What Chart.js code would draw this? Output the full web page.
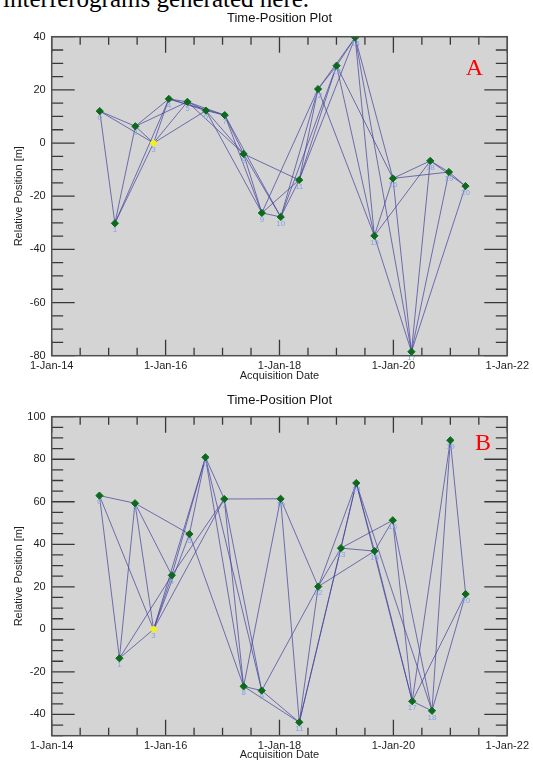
<!DOCTYPE html>
<html>
<head>
<meta charset="utf-8">
<title>Time-Position Plot</title>
<script src="https://cdn.jsdelivr.net/npm/chart.js@4.4.1/dist/chart.umd.min.js"></script>
<style>
  html, body { margin: 0; padding: 0; background: #fff; }
  body { width: 533px; height: 762px; position: relative; overflow: hidden; }
  .caption {
    position: absolute; left: 3px; top: -14px;
    font: 25px/25px 'Liberation Serif', 'Times New Roman', serif;
    color: #000; white-space: nowrap;
  }
  canvas { position: absolute; left: 0; }
  #plotA { top: 0; }
  #plotB { top: 383px; }
</style>
</head>
<body>
<div class="caption">interferograms generated here.</div>
<canvas id="plotA" width="533" height="383"></canvas>
<canvas id="plotB" width="533" height="379"></canvas>
<script>
// track A: acquisition dates, relative position [m], interferogram pairs
const datesA = ['2014-11-05', '2015-02-10', '2015-06-21', '2015-10-16', '2016-01-22', '2016-05-20',
  '2016-09-16', '2017-01-15', '2017-05-16', '2017-09-10', '2018-01-09', '2018-05-07', '2018-09-05',
  '2019-01-02', '2019-05-01', '2019-09-01', '2019-12-29', '2020-04-26', '2020-08-25', '2020-12-23',
  '2021-04-08'];
const posA = [12.0, -30.2, 6.3, 0, 16.6, 15.5, 12.2, 10.5, -4.1, -26.3, -27.8, -13.9, 20.3,
  29.1, 39.7, -34.9, -13.3, -78.5, -6.7, -10.9, -16.2];
const pairsA = [
  [0, 1], [0, 2], [0, 3], [1, 2], [1, 3], [1, 4], [2, 3], [2, 4], [2, 5],
  [3, 4], [3, 5], [3, 6], [4, 5], [4, 6], [4, 7], [5, 6], [5, 7], [5, 8],
  [6, 7], [6, 8], [6, 9], [7, 8], [7, 9], [7, 10], [8, 9], [8, 10], [8, 11],
  [9, 10], [9, 11], [9, 12], [10, 11], [10, 12], [10, 13], [11, 12], [11, 13], [11, 14],
  [12, 13], [12, 14], [12, 15], [13, 14], [13, 15], [13, 16], [14, 15], [14, 16], [14, 17],
  [15, 16], [15, 17], [15, 18], [16, 17], [16, 18], [16, 19], [17, 18], [17, 19], [17, 20],
  [18, 19], [18, 20], [19, 20]
];

// track B
const datesB = ['2014-11-03', '2015-03-11', '2015-06-19', '2015-10-16', '2016-02-10', '2016-06-02',
  '2016-09-13', '2017-01-12', '2017-05-16', '2017-09-09', '2018-01-08', '2018-05-08', '2018-09-06',
  '2019-01-30', '2019-05-08', '2019-09-02', '2019-12-28', '2020-05-01', '2020-09-05', '2021-01-01',
  '2021-04-09'];
const posB = [62.9, -13.6, 59.3, 0, 25.4, 44.8, 80.9, 61.3, -26.8, -28.8, 61.4, -43.7, 20.1,
  38.2, 68.8, 36.8, 51.3, -33.8, -38.3, 88.9, 16.6];
const pairsB = [
  [0, 1], [0, 2], [0, 3], [1, 2], [1, 3], [1, 4], [2, 3], [2, 4], [2, 5],
  [3, 4], [3, 5], [3, 6], [3, 7], [4, 6], [4, 7], [5, 6], [5, 8],
  [6, 7], [6, 8], [6, 9], [7, 8], [7, 9], [7, 10], [8, 9], [8, 10], [8, 11],
  [9, 11], [9, 12], [10, 11], [10, 12], [11, 12], [11, 13], [11, 14],
  [12, 13], [12, 14], [12, 15], [13, 14], [13, 15], [13, 16], [14, 15], [14, 17], [14, 18],
  [15, 16], [15, 17], [16, 17], [16, 18], [17, 18], [17, 19], [17, 20],
  [18, 19], [18, 20], [19, 20]
];

const masterIndex = 3;

// axis labels
const dateTicks = [2014, 2016, 2018, 2020, 2022];
const dateTickText = ['1-Jan-14', '1-Jan-16', '1-Jan-18', '1-Jan-20', '1-Jan-22'];
const posTicksA = [-80, -60, -40, -20, 0, 20, 40];
const posTicksB = [-40, -20, 0, 20, 40, 60, 80, 100];

Chart.defaults.font.family = "'Liberation Sans', Arial, sans-serif";
Chart.defaults.color = '#1e1e1e';

function toYear(s) {
  const [y, m, d] = s.split('-').map(Number);
  const start = Date.UTC(y, 0, 1);
  const len = Date.UTC(y + 1, 0, 1) - start;
  return y + (Date.UTC(y, m - 1, d) - start) / len;
}

// grey plot box, inward ticks on all four sides, panel letter
const frame = {
  id: 'frame',
  beforeDraw(chart) {
    const { ctx, chartArea: a } = chart;
    ctx.save();
    ctx.fillStyle = '#d4d4d4';
    ctx.fillRect(a.left, a.top, a.right - a.left, a.bottom - a.top);
    ctx.restore();
  },
  afterDraw(chart, args, opts) {
    const { ctx, chartArea: a, scales } = chart;
    ctx.save();
    ctx.strokeStyle = '#383838';
    ctx.lineWidth = 1.3;
    ctx.beginPath();
    scales.x.ticks.forEach(t => {
      const px = scales.x.getPixelForValue(t.value);
      const len = t.label !== '' ? 16 : 8;
      ctx.moveTo(px, a.bottom); ctx.lineTo(px, a.bottom - len);
      ctx.moveTo(px, a.top); ctx.lineTo(px, a.top + len);
    });
    scales.y.ticks.forEach(t => {
      const py = scales.y.getPixelForValue(t.value);
      const len = t.label !== '' ? 23 : 11.5;
      ctx.moveTo(a.left, py); ctx.lineTo(a.left + len, py);
      ctx.moveTo(a.right, py); ctx.lineTo(a.right - len, py);
    });
    ctx.stroke();
    ctx.strokeStyle = '#505050';
    ctx.lineWidth = 1.5;
    ctx.strokeRect(a.left, a.top, a.right - a.left, a.bottom - a.top);

    ctx.fillStyle = '#ff0000';
    ctx.font = "24px 'Liberation Serif', 'Times New Roman', serif";
    ctx.textAlign = 'left';
    ctx.textBaseline = 'alphabetic';
    ctx.fillText(opts.letter, opts.x, opts.y);
    ctx.restore();
  }
};

// scene number under each acquisition
const sceneNumbers = {
  id: 'sceneNumbers',
  afterDatasetsDraw(chart) {
    const { ctx } = chart;
    const meta = chart.getDatasetMeta(0);
    ctx.save();
    ctx.font = "8px 'Liberation Sans', Arial, sans-serif";
    ctx.fillStyle = '#86a3e3';
    ctx.textAlign = 'center';
    ctx.textBaseline = 'top';
    meta.data.forEach((pt, i) => ctx.fillText(String(i), pt.x, pt.y + 2.5));
    ctx.restore();
  }
};

function drawPanel(id, dates, pos, pairs, yMin, yMax, yLabels, box) {
  const pts = dates.map((d, i) => ({ x: toYear(d), y: pos[i] }));
  const colors = pts.map((p, i) => i === masterIndex ? '#f2ee22' : '#0b6a1c');

  const datasets = [{
    data: pts,
    order: 0,
    showLine: false,
    pointStyle: 'rectRot',
    pointRadius: 3.6,
    pointBackgroundColor: colors,
    pointBorderColor: colors,
    pointBorderWidth: 1
  }];
  pairs.forEach(([i, j]) => {
    datasets.push({
      data: [pts[i], pts[j]],
      order: 1,
      showLine: true,
      borderColor: 'rgba(66, 66, 158, 0.72)',
      borderWidth: 1,
      pointRadius: 0
    });
  });

  return new Chart(document.getElementById(id), {
    type: 'scatter',
    data: { datasets },
    options: {
      responsive: false,
      animation: false,
      events: [],
      layout: { padding: { left: 0, right: 23.7, top: 0, bottom: 0 } },
      plugins: {
        legend: { display: false },
        tooltip: { enabled: false },
        title: {
          display: true,
          text: 'Time-Position Plot',
          fullSize: false,
          color: '#111',
          font: { size: 13, weight: 'normal' },
          padding: { top: box.titleTop, bottom: box.titleBottom }
        },
        frame: { letter: box.letter, x: box.letterX, y: box.letterY }
      },
      scales: {
        x: {
          type: 'linear',
          min: 2014,
          max: 2022,
          grid: { display: false, drawTicks: false },
          border: { display: false },
          ticks: {
            stepSize: 0.5,
            maxTicksLimit: 100,
            autoSkip: false,
            maxRotation: 0,
            minRotation: 0,
            padding: 4,
            font: { size: 11 },
            callback: v => {
              const k = dateTicks.indexOf(v);
              return k >= 0 ? dateTickText[k] : '';
            }
          },
          title: {
            display: true,
            text: 'Acquisition Date',
            font: { size: 11 },
            padding: { top: 0, bottom: 0.4 }
          },
          afterFit: s => { s.height = box.xHeight; }
        },
        y: {
          type: 'linear',
          min: yMin,
          max: yMax,
          grid: { display: false, drawTicks: false },
          border: { display: false },
          ticks: {
            stepSize: 5,
            maxTicksLimit: 100,
            autoSkip: false,
            padding: 6,
            font: { size: 11 },
            callback: v => yLabels.includes(v) ? String(v) : ''
          },
          title: {
            display: true,
            text: 'Relative Position [m]',
            font: { size: 11 },
            padding: { top: 12, bottom: 0 }
          },
          afterFit: s => { s.width = 51.7; }
        }
      }
    },
    plugins: [frame, sceneNumbers]
  });
}

drawPanel('plotA', datesA, posA, pairsA, -80, 40, posTicksA, {
  titleTop: 10.5, titleBottom: 10.6, xHeight: 27.3,
  letter: 'A', letterX: 465.7, letterY: 75
});
drawPanel('plotB', datesB, posB, pairsB, -50, 100, posTicksB, {
  titleTop: 9.2, titleBottom: 8.9, xHeight: 26.3,
  letter: 'B', letterX: 475, letterY: 67
});
</script>
</body>
</html>
